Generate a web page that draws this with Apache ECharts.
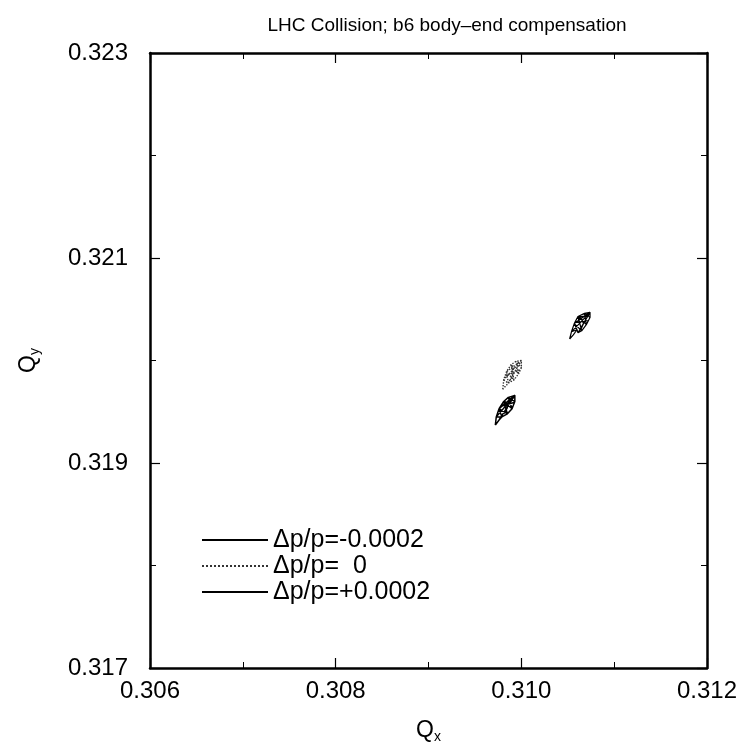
<!DOCTYPE html>
<html lang="en">
<head>
    <meta charset="utf-8">
    <title>LHC Collision footprint</title>
    <script src="https://cdn.jsdelivr.net/npm/echarts@6/dist/echarts.min.js"></script>
    <style>
        html, body { margin: 0; padding: 0; background: #fff; }
        #main { width: 742px; height: 743px; }
    </style>
</head>
<body>
<div id="main"></div>
<script type="text/javascript">
// tick labels
var xTicks = [0.306, 0.308, 0.310, 0.312];
var yTicks = [0.317, 0.319, 0.321, 0.323];
var legendNames = ['\u0394p/p=-0.0002', '\u0394p/p=  0', '\u0394p/p=+0.0002'];

// footprint for dp/p = -0.0002 (lowest one): outline + mesh
var fpMinus = [
    [0.30972, 0.31937], [0.30973, 0.31945], [0.30976, 0.31953], [0.30981, 0.31960],
    [0.30986, 0.31964], [0.30993, 0.31966], [0.30993, 0.31960], [0.30990, 0.31953],
    [0.30985, 0.31948], [0.30979, 0.31945], [0.30976, 0.31942], [0.30972, 0.31937], null,
    [0.30973, 0.31945], [0.30979, 0.31945], [0.30976, 0.31953], [0.30985, 0.31948],
    [0.30981, 0.31960], [0.30990, 0.31953], [0.30986, 0.31964], [0.30993, 0.31960], null,
    [0.30993, 0.31966], [0.30973, 0.31945], null,
    [0.30993, 0.31966], [0.30976, 0.31953], null,
    [0.30993, 0.31966], [0.30976, 0.31942], null,
    [0.30982, 0.31961], [0.30985, 0.31954], [0.30981, 0.31948], null,
    [0.30977, 0.31955], [0.30992, 0.31959]
];
// footprint for dp/p = 0 (middle one)
var fpZero = [
    [0.30980, 0.31972], [0.30981, 0.31981], [0.30984, 0.31989], [0.30989, 0.31996],
    [0.30994, 0.31999], [0.31000, 0.32000], [0.31000, 0.31993], [0.30997, 0.31987],
    [0.30992, 0.31981], [0.30986, 0.31978], [0.30980, 0.31972], null,
    [0.30981, 0.31981], [0.30986, 0.31978], [0.30984, 0.31989], [0.30992, 0.31981],
    [0.30989, 0.31996], [0.30997, 0.31987], [0.30994, 0.31999], [0.31000, 0.31993], null,
    [0.31000, 0.32000], [0.30981, 0.31981], null,
    [0.31000, 0.32000], [0.30984, 0.31989], null,
    [0.31000, 0.32000], [0.30986, 0.31978], null,
    [0.30990, 0.31995], [0.30991, 0.31987], [0.30988, 0.31981], null,
    [0.30983, 0.31985], [0.30999, 0.31991]
];
// footprint for dp/p = +0.0002 (upper right one)
var fpPlus = [
    [0.31052, 0.32021], [0.31054, 0.32028], [0.31057, 0.32036], [0.31061, 0.32043],
    [0.31068, 0.32046], [0.31074, 0.32047], [0.31074, 0.32042], [0.31070, 0.32035],
    [0.31065, 0.32029], [0.31061, 0.32027], [0.31060, 0.32030], [0.31056, 0.32025],
    [0.31052, 0.32021], null,
    [0.31054, 0.32028], [0.31060, 0.32030], [0.31057, 0.32036], [0.31065, 0.32029],
    [0.31061, 0.32043], [0.31070, 0.32035], [0.31068, 0.32046], [0.31074, 0.32042], null,
    [0.31074, 0.32047], [0.31054, 0.32028], null,
    [0.31074, 0.32047], [0.31057, 0.32036], null,
    [0.31074, 0.32047], [0.31061, 0.32027], null,
    [0.31063, 0.32044], [0.31067, 0.32036], [0.31064, 0.32030], null,
    [0.31058, 0.32037], [0.31072, 0.32039], null,
    [0.31060, 0.32042], [0.31073, 0.32044]
];

var font = 'Liberation Sans, Arial, Helvetica, sans-serif';
var chart = echarts.init(document.getElementById('main'));

function tickLabel(v) {
    for (var i = 0; i < xTicks.length; i++) {
        if (Math.abs(v - xTicks[i]) < 1e-7) return xTicks[i].toFixed(3);
    }
    for (var j = 0; j < yTicks.length; j++) {
        if (Math.abs(v - yTicks[j]) < 1e-7) return yTicks[j].toFixed(3);
    }
    return '';
}

var axisLine = {show: true, onZero: false, lineStyle: {color: '#000', width: 2.5}};
var majorTick = {show: true, inside: true, length: 10, lineStyle: {color: '#000', width: 1.2}};
var minorTick = {show: true, splitNumber: 2, length: 6, lineStyle: {color: '#000', width: 1}};
var nameRich = {
    q: {fontFamily: font, fontSize: 23, color: '#000'},
    s: {fontFamily: font, fontSize: 14, color: '#000', verticalAlign: 'bottom', padding: [12, 0, 0, 0]}
};

chart.setOption({
    backgroundColor: '#fff',
    animation: false,
    title: {
        text: 'LHC Collision; b6 body\u2013end compensation',
        left: 442, top: 11, textAlign: 'center',
        textStyle: {fontFamily: font, fontSize: 19, fontWeight: 'normal', color: '#000'}
    },
    grid: {left: 150, right: 35, top: 53, bottom: 75, outerBoundsMode: 'none', containLabel: false},
    legend: {
        orient: 'vertical',
        left: 196, top: 522,
        itemWidth: 66, itemHeight: 14, itemGap: 0,
        itemStyle: {opacity: 0},
        textStyle: {fontFamily: font, fontSize: 25, lineHeight: 26, color: '#000'},
        data: legendNames
    },
    xAxis: [{
        type: 'value', min: 0.306, max: 0.312, interval: 0.002,
        name: '{q|Q}{s|x}', nameLocation: 'middle', nameGap: 50,
        nameTextStyle: {rich: nameRich},
        axisLine: axisLine, axisTick: majorTick, minorTick: minorTick,
        splitLine: {show: false},
        axisLabel: {fontFamily: font, fontSize: 24, color: '#000', margin: 11, formatter: tickLabel}
    }, {
        type: 'value', position: 'top', min: 0.306, max: 0.312, interval: 0.002,
        axisLine: axisLine, axisTick: majorTick, minorTick: minorTick,
        splitLine: {show: false}, axisLabel: {show: false}
    }],
    yAxis: [{
        type: 'value', min: 0.317, max: 0.323, interval: 0.002,
        name: '{q|Q}{s|y}', nameLocation: 'middle', nameGap: 108, nameRotate: 90,
        nameTextStyle: {rich: nameRich},
        axisLine: axisLine, axisTick: majorTick, minorTick: minorTick,
        splitLine: {show: false},
        axisLabel: {fontFamily: font, fontSize: 24, color: '#000', margin: 22, formatter: tickLabel}
    }, {
        type: 'value', position: 'right', min: 0.317, max: 0.323, interval: 0.002,
        axisLine: axisLine, axisTick: majorTick, minorTick: minorTick,
        splitLine: {show: false}, axisLabel: {show: false}
    }],
    series: [{
        name: legendNames[0], type: 'line', data: fpMinus, symbol: 'none',
        connectNulls: false, color: '#000',
        lineStyle: {color: '#000', width: 1.5}
    }, {
        name: legendNames[1], type: 'line', data: fpZero, symbol: 'none',
        connectNulls: false, color: '#444',
        lineStyle: {color: '#333', width: 1.4, type: 'dotted'}
    }, {
        name: legendNames[2], type: 'line', data: fpPlus, symbol: 'none',
        connectNulls: false, color: '#000',
        lineStyle: {color: '#000', width: 1.2}
    }]
});
</script>
</body>
</html>
